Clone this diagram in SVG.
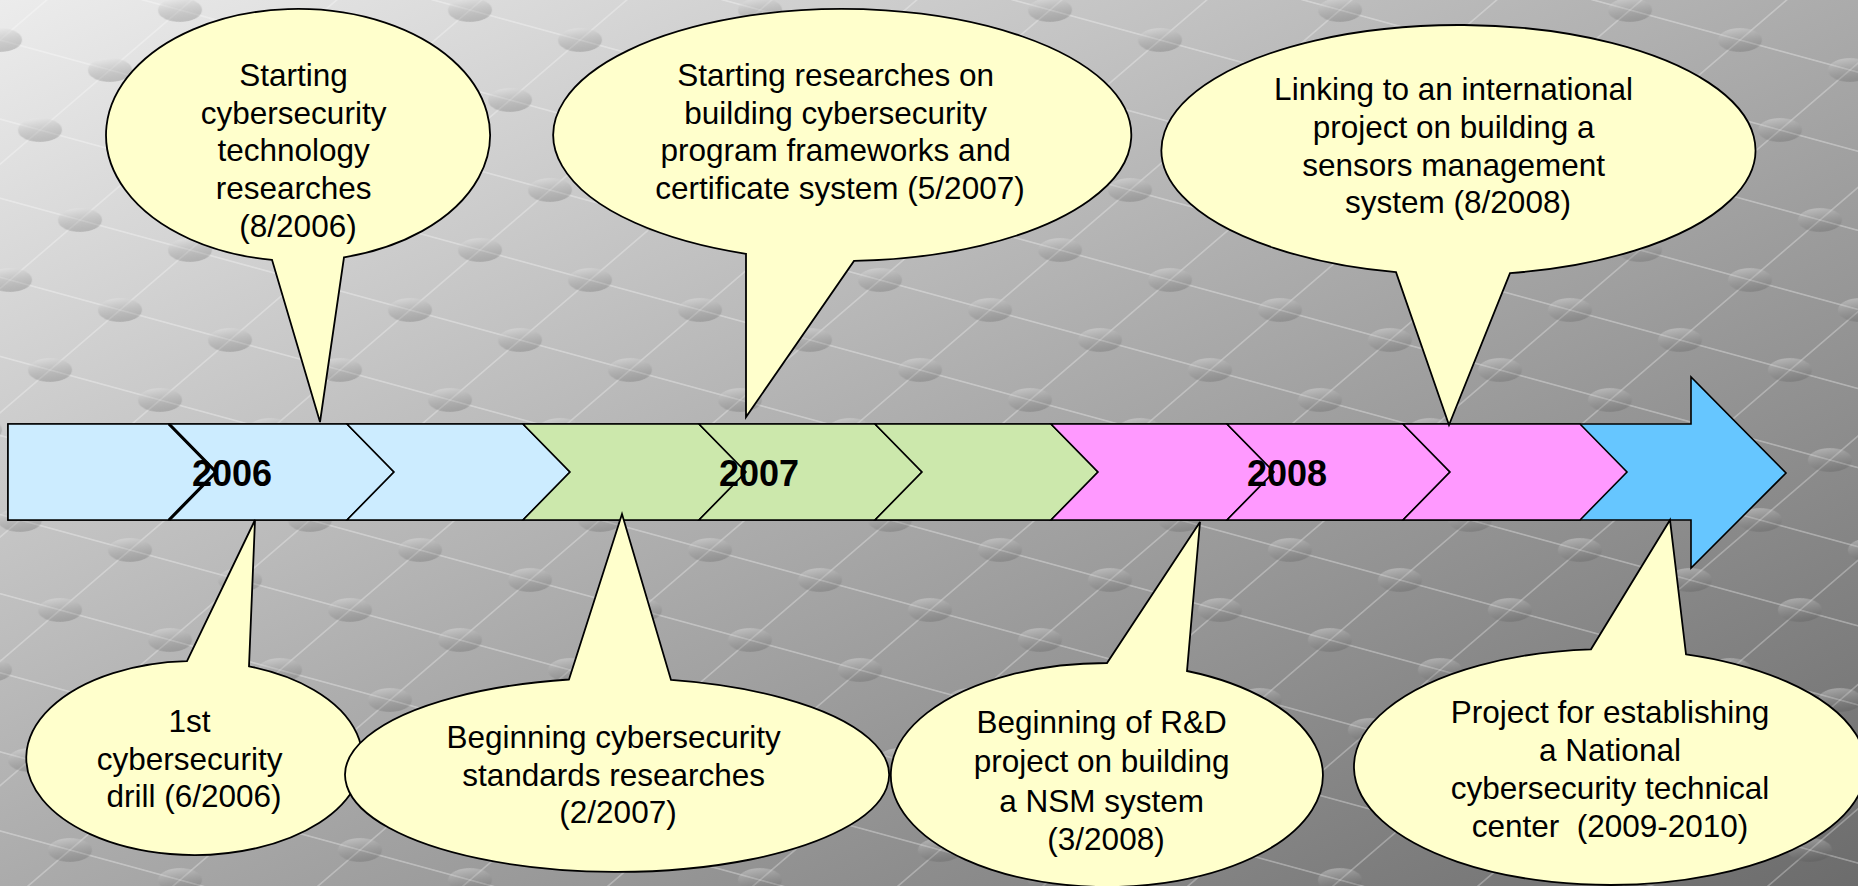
<svg xmlns="http://www.w3.org/2000/svg" width="1858" height="886" viewBox="0 0 1858 886">
  <style>
    .band { stroke: #000; stroke-width: 1.6; stroke-linejoin: miter; }
    .lb { fill: #CCECFF; }
    .gr { fill: #CCE8AC; }
    .pk { fill: #FF99FF; }
    .bl { fill: #66C6FF; }
    .year { font-family: "Liberation Sans", Arial, sans-serif; font-size: 36px; font-weight: bold; text-anchor: middle; fill: #000; }
    .bubble { fill: #FFFFCC; stroke: #000; stroke-width: 1.8; stroke-linejoin: miter; }
    .t { font-family: "Liberation Sans", Arial, sans-serif; font-size: 31.5px; text-anchor: middle; fill: #000; }
  </style>
  <defs>
    <linearGradient id="bg" x1="0" y1="0" x2="1" y2="1">
      <stop offset="0" stop-color="#ececec"/>
      <stop offset="0.5" stop-color="#ababab"/>
      <stop offset="1" stop-color="#6c6c6c"/>
    </linearGradient>
    <linearGradient id="discG" x1="0" y1="0" x2="0.3" y2="1">
      <stop offset="0" stop-color="#ffffff" stop-opacity="0.4"/>
      <stop offset="1" stop-color="#505050" stop-opacity="0.25"/>
    </linearGradient>
    <ellipse id="disc" cx="0" cy="0" rx="22" ry="12" fill="url(#discG)"/>
    <pattern id="grid" patternUnits="userSpaceOnUse" width="100" height="100" patternTransform="matrix(1.1 0.3 0.7 -0.6 0 40)">
      <path d="M0 0H100M0 100H100" stroke="#ffffff" stroke-opacity="0.3" stroke-width="2" fill="none"/>
      <path d="M0 0V100M100 0V100" stroke="#ffffff" stroke-opacity="0.3" stroke-width="1.6" fill="none"/>
      <use href="#disc" transform="translate(0 0) matrix(0.6897 0.3448 0.8046 -1.2644 0 0)"/>
      <use href="#disc" transform="translate(100 0) matrix(0.6897 0.3448 0.8046 -1.2644 0 0)"/>
      <use href="#disc" transform="translate(0 100) matrix(0.6897 0.3448 0.8046 -1.2644 0 0)"/>
      <use href="#disc" transform="translate(100 100) matrix(0.6897 0.3448 0.8046 -1.2644 0 0)"/>
    </pattern>
  </defs>

  <g id="background">
    <rect x="0" y="0" width="1858" height="886" fill="url(#bg)"/>
    <rect x="0" y="0" width="1858" height="886" fill="url(#grid)"/>
  </g>

  <g id="timeline">
    <path class="band bl" d="M8,424 L1691,424 L1691,377 L1786,473 L1691,568 L1691,520 L8,520 Z"/>
    <path class="band lb" d="M8,424 L169,424 L216,472 L169,520 L8,520 Z"/>
    <path class="band lb" d="M169,424 L347,424 L394,472 L347,520 L169,520 L216,472 Z"/>
    <path class="band lb" d="M347,424 L523,424 L570,472 L523,520 L347,520 L394,472 Z"/>
    <path class="band gr" d="M523,424 L699,424 L746,472 L699,520 L523,520 L570,472 Z"/>
    <path class="band gr" d="M699,424 L875,424 L922,472 L875,520 L699,520 L746,472 Z"/>
    <path class="band gr" d="M875,424 L1051,424 L1098,472 L1051,520 L875,520 L922,472 Z"/>
    <path class="band pk" d="M1051,424 L1227,424 L1274,472 L1227,520 L1051,520 L1098,472 Z"/>
    <path class="band pk" d="M1227,424 L1403,424 L1450,472 L1403,520 L1227,520 L1274,472 Z"/>
    <path class="band pk" d="M1403,424 L1580,424 L1627,472 L1580,520 L1403,520 L1450,472 Z"/>
    <path d="M169,424 L216,472 L169,520" fill="none" stroke="#000" stroke-width="3.2"/>
    <text class="year" x="232" y="486">2006</text>
    <text class="year" x="759" y="486">2007</text>
    <text class="year" x="1287" y="486">2008</text>
  </g>

  <g id="connectors"></g>

  <g id="callout-2006-08">
    <path class="bubble" d="M272,259.8 A192,126 0 1 1 344,257.3 L320,422 Z"/>
    <text class="t">
      <tspan x="298" y="86">Starting</tspan>
      <tspan x="298" y="123.5">cybersecurity</tspan>
      <tspan x="298" y="161">technology</tspan>
      <tspan x="298" y="199">researches</tspan>
      <tspan x="298" y="237">(8/2006)</tspan>
    </text>
  </g>

  <g id="callout-2007-05">
    <path class="bubble" d="M746,253.8 A289,126 0 1 1 854,260.9 L746,417 Z"/>
    <text class="t">
      <tspan x="840" y="86">Starting researches on</tspan>
      <tspan x="840" y="123.5">building cybersecurity</tspan>
      <tspan x="840" y="161">program frameworks and</tspan>
      <tspan x="840" y="199">certificate system (5/2007)</tspan>
    </text>
  </g>

  <g id="callout-2008-08">
    <path class="bubble" d="M1396,272.2 A297,125 0 1 1 1510,273.1 L1449,425 Z"/>
    <text class="t">
      <tspan x="1458" y="100">Linking to an international</tspan>
      <tspan x="1458" y="138">project on building a</tspan>
      <tspan x="1458" y="176">sensors management</tspan>
      <tspan x="1458" y="213">system (8/2008)</tspan>
    </text>
  </g>

  <g id="callout-2006-06">
    <path class="bubble" d="M187,661.1 A168,97 0 1 0 249,666.3 L255,520 Z"/>
    <text class="t">
      <tspan x="194" y="732">1st</tspan>
      <tspan x="194" y="770">cybersecurity</tspan>
      <tspan x="194" y="807">drill (6/2006)</tspan>
    </text>
  </g>

  <g id="callout-2007-02">
    <path class="bubble" d="M569,679.5 A272,97 0 1 0 671,679.9 L622,514 Z"/>
    <text class="t">
      <tspan x="618" y="748">Beginning cybersecurity</tspan>
      <tspan x="618" y="786">standards researches</tspan>
      <tspan x="618" y="823">(2/2007)</tspan>
    </text>
  </g>

  <g id="callout-2008-03">
    <path class="bubble" d="M1107,663 A216,112 0 1 0 1187,671 L1200,522 Z"/>
    <text class="t">
      <tspan x="1106" y="733">Beginning of R&amp;D</tspan>
      <tspan x="1106" y="772">project on building</tspan>
      <tspan x="1106" y="812">a NSM system</tspan>
      <tspan x="1106" y="850">(3/2008)</tspan>
    </text>
  </g>

  <g id="callout-2009-2010">
    <path class="bubble" d="M1591,649.3 A256,118 0 1 0 1686,654.3 L1670,520 Z"/>
    <text class="t" xml:space="preserve"><tspan x="1610" y="723">Project for establishing</tspan><tspan x="1610" y="761">a National</tspan><tspan x="1610" y="799">cybersecurity technical</tspan><tspan x="1610" y="837">center  (2009-2010)</tspan></text>
  </g>
</svg>
